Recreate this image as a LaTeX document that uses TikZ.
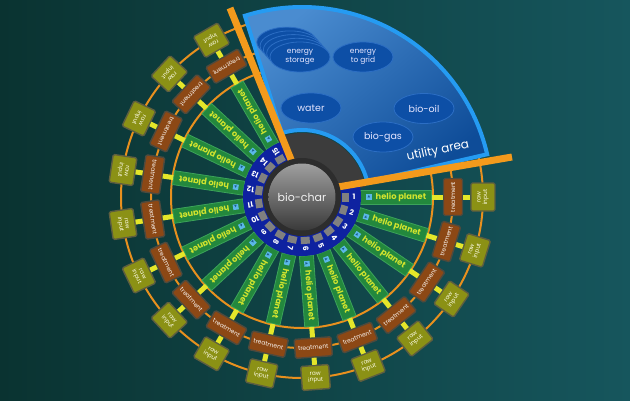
\documentclass[tikz,border=0pt]{standalone}
\usepackage{fontspec}
\setmainfont{Poppins}
\newfontfamily\symfont{DejaVu Sans}
\usetikzlibrary{shapes.geometric}

\definecolor{bgA}{HTML}{0A3331}
\definecolor{bgB}{HTML}{16565D}
\definecolor{ringO}{HTML}{E8901E}
\definecolor{barO}{HTML}{F39A1C}
\definecolor{yel}{HTML}{E4E62A}
\definecolor{hpGreen}{HTML}{23883D}
\definecolor{hpEdge}{HTML}{3BA35A}
\definecolor{hpText}{HTML}{D2E42E}
\definecolor{trFill}{HTML}{8C4815}
\definecolor{trEdge}{HTML}{4E4A3E}
\definecolor{rawFill}{HTML}{8B9115}
\definecolor{rawEdge}{HTML}{5E5E40}
\definecolor{utilA}{HTML}{4A8CD0}
\definecolor{utilB}{HTML}{0E4C98}
\definecolor{utilEdge}{HTML}{259BF2}
\definecolor{ellFill}{HTML}{0D4FA6}
\definecolor{ellEdge}{HTML}{2C6EC4}
\definecolor{ringBlue}{HTML}{0E22A0}
\definecolor{tabGray}{HTML}{808080}
\definecolor{hubDark}{HTML}{3C3C3C}
\definecolor{iconBlue}{HTML}{5BB8E8}
\definecolor{iconDark}{HTML}{1C5E8C}

\tikzset{
  hpbar/.style={draw=hpEdge, fill=hpGreen, line width=0.8pt, minimum width=71pt, minimum height=14pt, inner sep=0pt, anchor=west},
  hptext/.style={text=hpText, font=\bfseries\fontsize{8.3}{9}\selectfont, inner sep=0pt, anchor=west},
  hpicon/.style={fill=iconBlue, minimum size=5.5pt, inner sep=0pt, text=iconDark, font=\symfont\fontsize{3.5}{3.5}\selectfont},
  treat/.style={draw=trEdge, fill=trFill, line width=1.4pt, rounded corners=1.5pt, minimum width=37pt, minimum height=19pt, inner sep=0pt, text=white!92!brown, font=\fontsize{6}{6.5}\selectfont},
  rawbox/.style={draw=rawEdge, fill=rawFill, line width=1.4pt, rounded corners=1.5pt, minimum width=28pt, minimum height=24pt, inner sep=0pt, align=center, text=white!92!yellow, font=\fontsize{5.8}{6.3}\selectfont},
  conn/.style={draw=yel, line width=5pt},
  ringline/.style={draw=ringO, line width=2pt},
  numlab/.style={text=white, font=\bfseries\fontsize{7.5}{7.5}\selectfont, inner sep=0pt},
  tabbox/.style={fill=tabGray, minimum width=7pt, minimum height=9pt, inner sep=0pt},
  ell/.style={ellipse, draw=ellEdge, fill=ellFill, line width=0.8pt, minimum width=60pt, minimum height=30pt, inner sep=0pt, text=white!90!blue, align=center},
  orangebar/.style={draw=barO, line width=7pt},
}

\begin{document}
\begin{tikzpicture}[x=1pt,y=1pt]
\useasboundingbox (-302,-203) rectangle (328,197);
% background
\shade[left color=bgA, right color=bgB] (-302,-203) rectangle (328,197);

% rings
\draw[ringline] (0,0) circle[radius=131];
\draw[ringline] (0,0) circle[radius=151];
\draw[ringline] (0,0) circle[radius=181];

% utility area
\path[draw=utilEdge, line width=4pt, top color=utilA, bottom color=utilB, shading angle=40]
  (13:190) arc[start angle=13, end angle=107.5, radius=190]
  -- (107.5:67) arc[start angle=107.5, end angle=13, radius=67] -- cycle;
\foreach \k in {4,3,2,1}
  \node[ell] (es\k) at ({-2-3.3*\k},{140+3.7*\k}) {};
\node[ell, font=\fontsize{7.5}{8.5}\selectfont] (es) at (-2,140) {energy\\storage};
\node[ell, font=\fontsize{7.5}{8.5}\selectfont] (eg) at (61,140) {energy\\to grid};
\node[ell, font=\fontsize{9.5}{10}\selectfont] (wa) at (9,89) {water};
\node[ell, font=\fontsize{9.5}{10}\selectfont] (bo) at (122,88.5) {bio-oil};
\node[ell, font=\fontsize{9.5}{10}\selectfont] (bg) at (81,60) {bio-gas};
\node[rotate=12, text=white, font=\fontsize{12}{12}\selectfont] (ua) at (136,46) {utility area};

% dark hub in the gap
\fill[hubDark] (0,0) -- (9:64) arc[start angle=9, end angle=113, radius=64] -- cycle;

% spokes
\foreach \i in {1,...,15}{
  \pgfmathsetmacro{\a}{-(\i-1)*360/21}
  \node[hpbar, rotate=\a] (b\i) at (\a:58.5) {};
  \node[hpicon, rotate=\a] (ic\i) at (\a:67) {▲};
  \node[hptext, rotate=\a] (h\i) at (\a:73.5) {helio planet};
  \node[treat, rotate=\a+90] (t\i) at (\a:151) {treatment};
  \node[rawbox, rotate=\a+90] (r\i) at (\a:181) {raw\\input};
  \draw[conn] (b\i.east) -- (t\i.north);
  \draw[conn] (t\i.south) -- (r\i.north);
}

% number ring
\fill[ringBlue] (11:59) arc[start angle=11, end angle=-251, radius=59]
  -- (-251:38) arc[start angle=-251, end angle=11, radius=38] -- cycle;
\foreach \i in {1,...,15}{
  \pgfmathsetmacro{\a}{-(\i-1)*360/21}
  \node[tabbox, rotate=\a] (g\i) at (\a:43.5) {};
  \node[numlab, rotate=\a] (n\i) at (\a:52) {\i};
}

% orange bars
\draw[orangebar] (-72,189) -- (-10,35);
\draw[orangebar] (36,10) -- (210,40);

% centre
\fill[hubDark!75!black] (0,0) circle[radius=39];
\node[circle, minimum size=67pt, inner sep=0pt, top color=gray!75, bottom color=gray!45!black,
  text=white!90!gray, font=\fontsize{11}{11}\selectfont] (hub) at (0,0) {bio-char};
\end{tikzpicture}
\end{document}
